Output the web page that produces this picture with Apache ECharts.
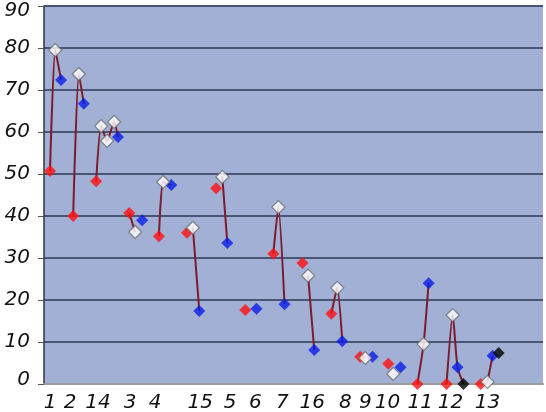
<!DOCTYPE html>
<html>
<head>
<meta charset="utf-8">
<script src="https://cdn.jsdelivr.net/npm/echarts@6/dist/echarts.min.js"></script>
<style>
  html, body { margin: 0; padding: 0; background: #fff; }
  #chart { width: 546px; height: 412px; }
</style>
</head>
<body>
<div id="chart"></div>
<script>
// x positions are in "slot" units along the axis
const groupLabels = ['1', '2', '14', '3', '4', '15', '5', '6', '7', '16', '8', '9', '10', '11', '12', '13']
const labelPos = [1.07, 4.64, 9.64, 15.36, 19.82, 27.86, 33.2, 37.68, 42.5, 47.86, 53.75, 57.3, 61.25, 67.1, 72.5, 79.1]

const redPts = [[1.07, 50.7], [5.2, 40], [9.3, 48.3], [15.2, 40.7], [20.5, 35.2], [25.5, 36], [30.7, 46.6], [35.9, 17.6],
  [40.9, 31], [46.1, 28.8], [51.25, 16.7], [56.4, 6.5], [61.4, 4.8], [66.6, 0], [71.8, 0], [77.9, 0]]
const whitePts = [[2, 79.5], [6.2, 73.8], [10.2, 61.4], [11.25, 57.9], [12.5, 62.4], [16.25, 36.2], [21.25, 48.1],
  [26.55, 37.2], [31.8, 49.3], [41.8, 42.1], [47.1, 25.8], [52.3, 22.9], [57.3, 6.2], [62.3, 2.4], [67.7, 9.5],
  [72.9, 16.4], [79.1, 0.5]]
const bluePts = [[3.04, 72.4], [7.1, 66.7], [13.2, 58.8], [17.5, 39], [22.7, 47.4], [27.7, 17.4], [32.7, 33.6],
  [37.9, 17.9], [42.9, 19], [48.2, 8.1], [53.2, 10.2], [58.6, 6.5], [63.6, 4], [68.6, 24], [73.75, 4], [80, 6.7]]
const blackPts = [[74.8, 0], [81.1, 7.4]]

// which points are joined by the dark red line, in order
const links = [
  [['r', 0], ['w', 0], ['b', 0]],
  [['r', 1], ['w', 1], ['b', 1]],
  [['r', 2], ['w', 2], ['w', 3], ['w', 4], ['b', 2]],
  [['r', 3], ['w', 5]],
  [['r', 4], ['w', 6], ['b', 4]],
  [['w', 7], ['b', 5]],
  [['w', 8], ['b', 6]],
  [['r', 8], ['w', 9], ['b', 8]],
  [['w', 10], ['b', 9]],
  [['r', 10], ['w', 11], ['b', 10]],
  [['r', 13], ['w', 14], ['b', 13]],
  [['r', 14], ['w', 15], ['b', 14], ['k', 0]],
  [['w', 16], ['b', 15]]
]

const sets = { r: redPts, w: whitePts, b: bluePts, k: blackPts }

const chart = echarts.init(document.getElementById('chart'))

const lineSeries = links.map(l => ({
  type: 'line',
  data: l.map(([s, i]) => sets[s][i]),
  showSymbol: false,
  smooth: 0.2,
  lineStyle: { color: '#7a1c2c', width: 2 },
  z: 2,
  silent: true
}))

const dot = (data, color, border, size) => ({
  type: 'scatter',
  data,
  symbol: 'diamond',
  symbolSize: size || 12,
  itemStyle: { color, borderColor: border || color, borderWidth: border ? 1.2 : 0 },
  z: 5
})

const labelFont = { fontFamily: 'DejaVu Sans', fontStyle: 'italic', fontSize: 20, color: '#111' }

chart.setOption({
  animation: false,
  grid: {
    left: 44, right: 3, top: 6, bottom: 28, outerBoundsMode: 'none',
    show: true, backgroundColor: '#a3b0d5', borderWidth: 0
  },
  xAxis: {
    type: 'value',
    min: 0,
    max: 89,
    splitLine: { show: false },
    axisTick: { show: false },
    axisLine: { show: true, lineStyle: { color: '#9a9a9a', width: 2 } },
    axisLabel: Object.assign({
      customValues: labelPos,
      margin: 9,
      formatter: v => groupLabels[labelPos.indexOf(v)]
    }, labelFont)
  },
  yAxis: {
    type: 'value',
    min: 0,
    max: 90,
    interval: 10,
    axisLine: { show: true, lineStyle: { color: '#333', width: 1.5 } },
    axisTick: { show: true, length: 6, lineStyle: { color: '#555' } },
    splitLine: { show: true, lineStyle: { color: '#4a5576', width: 2 } },
    axisLabel: Object.assign({
      margin: 14,
      // keep the end labels inside the frame, as in the original
      formatter: v => v === 90 ? '{top|' + v + '}' : v === 0 ? '{bot|' + v + '}' : '' + v,
      rich: {
        top: Object.assign({ padding: [10, 0, 0, 0] }, labelFont),
        bot: Object.assign({ padding: [0, 0, 8, 0] }, labelFont)
      }
    }, labelFont)
  },
  series: [
    ...lineSeries,
    dot(redPts, '#ff1010'),
    dot(bluePts, '#0a1ee6'),
    dot(blackPts, '#000'),
    dot(whitePts, '#ffffff', '#6a6a6a', 13)
  ]
})
</script>
</body>
</html>
